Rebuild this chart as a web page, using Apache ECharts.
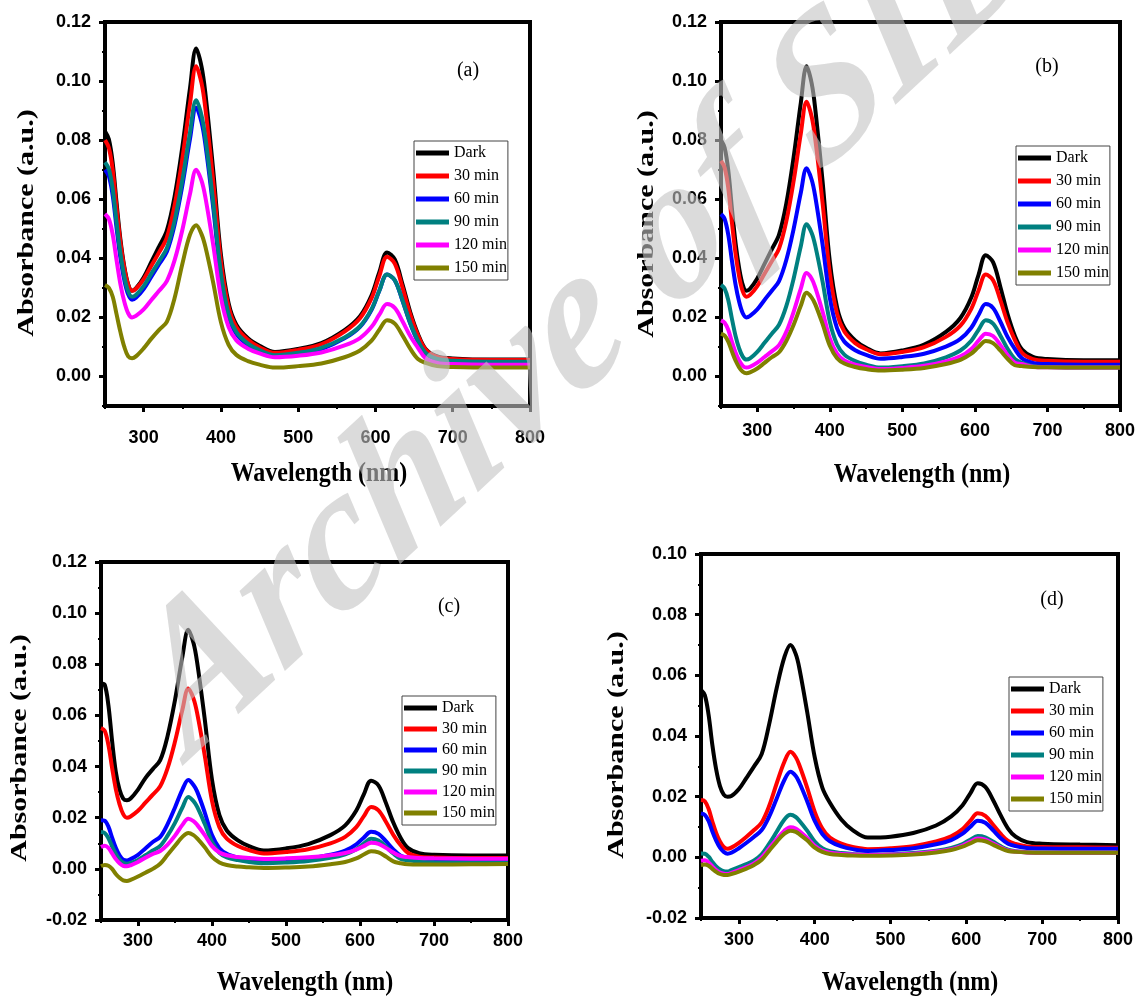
<!DOCTYPE html>
<html><head><meta charset="utf-8">
<script src="https://cdn.jsdelivr.net/npm/echarts@6/dist/echarts.min.js"></script>
<style>html,body{margin:0;padding:0;background:#fff}#c{width:1140px;height:996px}</style>
</head><body><div id="c"></div>
<script>
// Wavelength grid (nm)
const W = [250,255,260,265,270,275,280,285,290,300,310,320,330,340,350,360,368,375,380,390,400,410,420,435,450,470,500,530,560,580,595,605,615,625,635,645,655,665,680,700,750,800];
const seriesNames = ['Dark','30 min','60 min','90 min','120 min','150 min'];
const xTickLabels = [300,400,500,600,700,800];
const yTicksAB = [0,0.02,0.04,0.06,0.08,0.10,0.12];
const yTicksC = [-0.02,0,0.02,0.04,0.06,0.08,0.10,0.12];
const yTicksD = [-0.02,0,0.02,0.04,0.06,0.08,0.10];

// Panel (a)
const a_dark = [.0830,.0803,.0722,.0587,.0463,.0371,.0312,.0290,.0298,.0335,.0388,.0440,.0494,.0608,.0775,.0976,.1110,.1048,.0956,.0699,.0412,.0247,.0175,.0129,.0104,.0083,.0093,.0113,.0157,.0204,.0275,.0353,.0420,.0396,.0312,.0218,.0144,.0093,.0068,.0061,.0057,.0057];
const a_30 = [.0800,.0774,.0698,.0570,.0453,.0367,.0310,.0290,.0297,.0329,.0375,.0420,.0470,.0578,.0735,.0924,.1050,.0992,.0905,.0662,.0390,.0235,.0167,.0124,.0099,.0080,.0090,.0109,.0152,.0197,.0265,.0340,.0405,.0382,.0301,.0210,.0139,.0091,.0066,.0059,.0056,.0056];
const a_60 = [.0700,.0678,.0612,.0502,.0401,.0326,.0278,.0260,.0266,.0296,.0338,.0380,.0422,.0513,.0645,.0804,.0910,.0860,.0784,.0573,.0337,.0203,.0144,.0106,.0085,.0068,.0076,.0093,.0129,.0168,.0226,.0290,.0345,.0326,.0256,.0179,.0118,.0078,.0057,.0051,.0048,.0048];
const a_90 = [.0725,.0702,.0634,.0520,.0416,.0338,.0288,.0270,.0276,.0306,.0348,.0390,.0434,.0526,.0663,.0826,.0935,.0883,.0806,.0590,.0348,.0210,.0150,.0111,.0089,.0072,.0080,.0097,.0132,.0170,.0228,.0290,.0345,.0326,.0258,.0181,.0121,.0080,.0059,.0053,.0050,.0050];
const a_120 = [.0550,.0533,.0480,.0393,.0312,.0253,.0214,.0200,.0205,.0227,.0259,.0290,.0323,.0393,.0495,.0618,.0700,.0662,.0605,.0446,.0268,.0167,.0122,.0094,.0078,.0065,.0070,.0081,.0105,.0130,.0168,.0209,.0245,.0232,.0187,.0137,.0097,.0061,.0046,.0042,.0040,.0040];
const a_150 = [.0310,.0300,.0270,.0210,.0150,.0100,.0068,.0062,.0068,.0095,.0128,.0158,.0185,.0265,.0380,.0480,.0512,.0481,.0438,.0318,.0184,.0107,.0073,.0052,.0040,.0030,.0035,.0044,.0065,.0088,.0121,.0158,.0190,.0179,.0139,.0094,.0059,.0046,.0035,.0032,.0030,.0030];

// Panel (b)
const b_dark = [.0800,.0774,.0698,.0570,.0453,.0367,.0310,.0290,.0297,.0332,.0381,.0430,.0480,.0585,.0740,.0926,.1050,.0992,.0904,.0661,.0389,.0234,.0165,.0122,.0097,.0078,.0088,.0108,.0151,.0198,.0267,.0344,.0410,.0387,.0304,.0211,.0138,.0091,.0066,.0059,.0055,.0055];
const b_30 = [.0730,.0707,.0638,.0523,.0417,.0339,.0288,.0270,.0276,.0306,.0348,.0390,.0433,.0525,.0660,.0822,.0930,.0879,.0802,.0588,.0349,.0212,.0152,.0113,.0092,.0075,.0083,.0099,.0134,.0172,.0229,.0291,.0345,.0326,.0259,.0183,.0124,.0080,.0059,.0053,.0050,.0050];
const b_60 = [.0550,.0533,.0480,.0393,.0312,.0253,.0214,.0200,.0205,.0227,.0259,.0290,.0323,.0394,.0498,.0622,.0705,.0666,.0608,.0447,.0266,.0163,.0118,.0089,.0073,.0060,.0066,.0077,.0101,.0127,.0165,.0208,.0245,.0232,.0186,.0134,.0093,.0061,.0046,.0042,.0040,.0040];
const b_90 = [.0310,.0297,.0259,.0196,.0138,.0095,.0067,.0057,.0061,.0083,.0114,.0145,.0175,.0238,.0330,.0441,.0515,.0486,.0442,.0321,.0185,.0108,.0074,.0052,.0040,.0030,.0035,.0044,.0065,.0088,.0121,.0158,.0190,.0179,.0139,.0094,.0059,.0046,.0035,.0032,.0030,.0030];
const b_120 = [.0190,.0182,.0158,.0118,.0081,.0054,.0036,.0030,.0033,.0047,.0066,.0085,.0106,.0151,.0218,.0297,.0350,.0331,.0301,.0220,.0129,.0077,.0054,.0040,.0032,.0025,.0029,.0036,.0051,.0068,.0093,.0121,.0145,.0137,.0107,.0073,.0047,.0042,.0033,.0031,.0030,.0030];
const b_150 = [.0145,.0138,.0118,.0085,.0054,.0031,.0016,.0011,.0014,.0027,.0046,.0065,.0082,.0120,.0174,.0239,.0283,.0267,.0244,.0178,.0104,.0062,.0044,.0032,.0025,.0020,.0023,.0029,.0042,.0056,.0077,.0100,.0120,.0113,.0088,.0060,.0038,.0035,.0032,.0031,.0030,.0030];

// Panel (c)
const c_dark = [.0725,.0720,.0640,.0500,.0380,.0310,.0275,.0268,.0275,.0310,.0355,.0390,.0425,.0520,.0660,.0830,.0935,.0883,.0806,.0590,.0348,.0210,.0150,.0111,.0089,.0072,.0080,.0097,.0132,.0170,.0228,.0290,.0345,.0326,.0258,.0181,.0121,.0081,.0061,.0055,.0052,.0052];
const c_30 = [.0550,.0540,.0485,.0395,.0312,.0253,.0214,.0200,.0205,.0227,.0259,.0290,.0323,.0394,.0498,.0622,.0705,.0666,.0608,.0447,.0266,.0163,.0118,.0089,.0073,.0060,.0066,.0077,.0100,.0125,.0163,.0205,.0242,.0229,.0184,.0133,.0092,.0062,.0047,.0044,.0042,.0042];
const c_60 = [.0190,.0188,.0165,.0122,.0082,.0053,.0036,.0033,.0038,.0055,.0080,.0105,.0125,.0175,.0240,.0310,.0347,.0328,.0302,.0222,.0132,.0081,.0059,.0044,.0036,.0030,.0033,.0040,.0055,.0071,.0096,.0122,.0145,.0137,.0108,.0076,.0051,.0042,.0033,.0031,.0030,.0030];
const c_90 = [.0144,.0140,.0120,.0088,.0058,.0036,.0024,.0020,.0023,.0035,.0053,.0072,.0090,.0130,.0180,.0240,.0281,.0265,.0242,.0177,.0105,.0063,.0045,.0034,.0027,.0022,.0025,.0031,.0043,.0057,.0077,.0099,.0118,.0111,.0087,.0060,.0039,.0034,.0028,.0026,.0025,.0025];
const c_120 = [.0085,.0090,.0082,.0060,.0038,.0022,.0012,.0010,.0014,.0027,.0043,.0058,.0070,.0095,.0130,.0172,.0196,.0187,.0172,.0133,.0089,.0064,.0053,.0046,.0042,.0039,.0041,.0045,.0053,.0062,.0075,.0089,.0102,.0098,.0082,.0064,.0050,.0046,.0042,.0041,.0040,.0040];
const c_150 = [.0010,.0015,.0012,.0000,-.0020,-.0035,-.0045,-.0047,-.0043,-.0030,-.0015,.0000,.0020,.0055,.0090,.0125,.0140,.0132,.0119,.0085,.0047,.0025,.0015,.0009,.0006,.0003,.0005,.0009,.0018,.0027,.0041,.0056,.0069,.0064,.0048,.0029,.0022,.0018,.0017,.0017,.0018,.0019];

// Panel (d)
const d_dark = [.0552,.0535,.0470,.0370,.0290,.0235,.0207,.0200,.0202,.0225,.0262,.0300,.0340,.0440,.0560,.0660,.0700,.0670,.0620,.0480,.0330,.0230,.0180,.0125,.0090,.0065,.0068,.0080,.0105,.0135,.0172,.0210,.0244,.0232,.0190,.0140,.0095,.0068,.0050,.0045,.0042,.0040];
const d_30 = [.0189,.0185,.0160,.0118,.0080,.0052,.0034,.0028,.0032,.0048,.0068,.0090,.0115,.0170,.0245,.0315,.0348,.0330,.0302,.0230,.0150,.0095,.0065,.0045,.0034,.0027,.0030,.0037,.0052,.0069,.0093,.0120,.0145,.0137,.0108,.0078,.0054,.0044,.0036,.0034,.0033,.0032];
const d_60 = [.0145,.0140,.0120,.0085,.0055,.0032,.0018,.0012,.0015,.0030,.0048,.0068,.0090,.0135,.0195,.0255,.0282,.0268,.0245,.0185,.0120,.0077,.0053,.0036,.0027,.0021,.0024,.0030,.0043,.0057,.0078,.0100,.0121,.0114,.0090,.0064,.0045,.0037,.0031,.0029,.0028,.0028];
const d_90 = [.0013,.0012,.0002,-.0015,-.0030,-.0040,-.0046,-.0047,-.0042,-.0032,-.0022,-.0010,.0010,.0045,.0085,.0125,.0140,.0133,.0120,.0088,.0052,.0030,.0020,.0014,.0011,.0008,.0010,.0014,.0022,.0031,.0044,.0058,.0070,.0066,.0052,.0037,.0025,.0020,.0017,.0016,.0015,.0015];
const d_120 = [-.0011,-.0010,-.0017,-.0030,-.0042,-.0050,-.0054,-.0055,-.0051,-.0042,-.0032,-.0020,.0000,.0030,.0060,.0088,.0099,.0095,.0086,.0064,.0038,.0022,.0015,.0011,.0009,.0008,.0009,.0012,.0019,.0027,.0039,.0051,.0062,.0058,.0046,.0033,.0023,.0019,.0016,.0015,.0015,.0015];
const d_150 = [-.0025,-.0024,-.0028,-.0038,-.0048,-.0055,-.0058,-.0058,-.0055,-.0047,-.0037,-.0025,-.0008,.0022,.0052,.0078,.0088,.0084,.0076,.0056,.0032,.0018,.0011,.0008,.0006,.0005,.0006,.0009,.0016,.0024,.0035,.0046,.0056,.0053,.0042,.0030,.0021,.0018,.0016,.0015,.0015,.0015];

// ---------- layout / style ----------
const colors = ['#000000','#ff0000','#0000ff','#008080','#ff00ff','#808000'];
const panels = [
  {data:[a_dark,a_30,a_60,a_90,a_120,a_150], ymin:-0.01, ymax:0.12, yTicks:yTicksAB,
   grid:{left:105,top:22,width:425,height:384}, legend:{left:414,top:141,gap:7},
   tag:'(a)', tagPos:[468,71], xt:[319,474], yt:[27,223], xm:23},
  {data:[b_dark,b_30,b_60,b_90,b_120,b_150], ymin:-0.01, ymax:0.12, yTicks:yTicksAB,
   grid:{left:721,top:22,width:399,height:384}, legend:{left:1016,top:146,gap:7},
   tag:'(b)', tagPos:[1047,67], xt:[922,475], yt:[647,224], xm:16},
  {data:[c_dark,c_30,c_60,c_90,c_120,c_150], ymin:-0.02, ymax:0.12, yTicks:yTicksC,
   grid:{left:101,top:562,width:407,height:358}, legend:{left:402,top:696,gap:5},
   tag:'(c)', tagPos:[449,607], xt:[305,983], yt:[20,748], xm:12},
  {data:[d_dark,d_30,d_60,d_90,d_120,d_150], ymin:-0.02, ymax:0.10, yTicks:yTicksD,
   grid:{left:701,top:554,width:417,height:364}, legend:{left:1009,top:677,gap:6},
   tag:'(d)', tagPos:[1052,600], xt:[910,983], yt:[617,745], xm:13}
];

const tickFont = "'Liberation Sans',Arial,sans-serif";
const grids=[], xAxes=[], yAxes=[], series=[], legends=[], graphics=[];
panels.forEach((p, pi) => {
  grids.push(Object.assign({show:true, borderColor:'#000', borderWidth:4, backgroundColor:'transparent'}, p.grid));
  // main x axis
  xAxes.push({type:'value', gridIndex:pi, min:250, max:800, interval:50, position:'bottom',
    axisLine:{show:true, onZero:false, lineStyle:{color:'#000', width:4}},
    axisTick:{show:true, length:6, lineStyle:{color:'#000', width:3}, customValues:xTickLabels},
    axisLabel:{show:true, margin:p.xm, color:'#000', fontFamily:tickFont, fontWeight:'bold', fontSize:18,
      customValues:xTickLabels, formatter:v => (Math.round(v) % 100 === 0 ? String(Math.round(v)) : '')},
    splitLine:{show:false}});
  // minor x ticks
  xAxes.push({type:'value', gridIndex:pi, min:250, max:800, interval:50, position:'bottom',
    axisLine:{show:false, onZero:false}, axisLabel:{show:false}, splitLine:{show:false},
    axisTick:{show:true, length:3, lineStyle:{color:'#000', width:2}}});
  // main y axis
  yAxes.push({type:'value', gridIndex:pi, min:p.ymin, max:p.ymax, interval:0.01, position:'left',
    axisLine:{show:true, onZero:false, lineStyle:{color:'#000', width:4}},
    axisTick:{show:true, length:6, lineStyle:{color:'#000', width:3}, customValues:p.yTicks},
    axisLabel:{show:true, margin:14, color:'#000', fontFamily:tickFont, fontWeight:'bold', fontSize:18,
      customValues:p.yTicks, formatter:v => (Math.round(v*100) % 2 === 0 ? v.toFixed(2) : '')},
    splitLine:{show:false}});
  // minor y ticks
  yAxes.push({type:'value', gridIndex:pi, min:p.ymin, max:p.ymax, interval:0.01, position:'left',
    axisLine:{show:false, onZero:false}, axisLabel:{show:false}, splitLine:{show:false},
    axisTick:{show:true, length:3, lineStyle:{color:'#000', width:2}}});

  p.data.forEach((vals, k) => {
    series.push({type:'line', name:seriesNames[k], xAxisIndex:pi*2, yAxisIndex:pi*2,
      data: W.map((w, i) => [w, vals[i]]), smooth:0.35, showSymbol:false, symbol:'none',
      color:colors[k], lineStyle:{color:colors[k], width:4}, itemStyle:{color:colors[k]},
      z:2+k, animation:false, silent:true});
  });

  legends.push({show:true, orient:'vertical', left:p.legend.left, top:p.legend.top,
    data:seriesNames, icon:'rect', itemWidth:33, itemHeight:5, itemGap:p.legend.gap,
    padding:[4,1,4,2], borderColor:'#444', borderWidth:1, backgroundColor:'#fff',
    selectedMode:false,
    textStyle:{fontFamily:"'Liberation Serif','Times New Roman',serif", fontSize:16, lineHeight:16, color:'#000'}});

  graphics.push({type:'text', x:p.tagPos[0], y:p.tagPos[1], z:50,
    style:{text:p.tag, font:"20px 'Liberation Serif','Times New Roman',serif", fill:'#000', align:'center', verticalAlign:'middle'}});
  graphics.push({type:'text', x:p.xt[0], y:p.xt[1], scaleY:1.15, z:50,
    style:{text:'Wavelength (nm)', font:"bold 24px 'Liberation Serif','Times New Roman',serif", fill:'#000', align:'center', verticalAlign:'middle'}});
  graphics.push({type:'text', x:p.yt[0], y:p.yt[1], rotation:Math.PI/2, scaleX:1.25, z:50,
    style:{text:'Absorbance (a.u.)', font:"bold 24px 'Liberation Serif','Times New Roman',serif", fill:'#000', align:'center', verticalAlign:'middle'}});
});

// watermark
graphics.push({type:'group', scaleX:0.82, z:200, silent:true, children:[
  {type:'text', x:215/0.82, y:800, rotation:0.65, z:200, silent:true,
   style:{text:'Archive of SID', font:"italic bold 212px 'Liberation Serif','Times New Roman',serif",
     fill:'rgba(195,195,195,0.6)', align:'left', verticalAlign:'bottom'}}
]});

const chart = echarts.init(document.getElementById('c'), null, {renderer:'canvas', width:1140, height:996});
chart.setOption({animation:false, backgroundColor:'#fff', grid:grids, xAxis:xAxes, yAxis:yAxes,
  series:series, legend:legends, graphic:{elements:graphics}});
</script></body></html>
